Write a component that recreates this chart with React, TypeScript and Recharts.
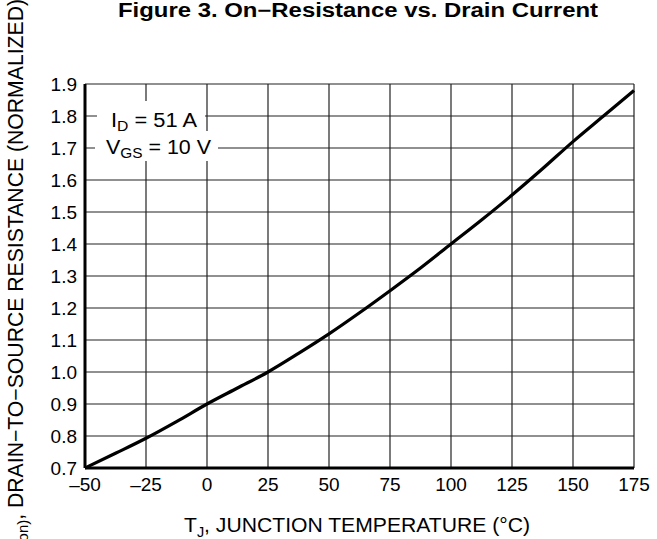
import { LineChart, Line, XAxis, YAxis, CartesianGrid } from "recharts";

const temps = [-50, -37.5, -25, -12.5, 0, 12.5, 25, 37.5, 50, 62.5, 75, 87.5, 100, 112.5, 125, 137.5, 150, 162.5, 175];
const rdsNorm = [0.7, 0.746, 0.793, 0.845, 0.9, 0.95, 1.0, 1.058, 1.119, 1.185, 1.254, 1.325, 1.4, 1.475, 1.553, 1.635, 1.72, 1.8, 1.88];
const xTicks = [-50, -25, 0, 25, 50, 75, 100, 125, 150, 175];
const yTicks = [0.7, 0.8, 0.9, 1.0, 1.1, 1.2, 1.3, 1.4, 1.5, 1.6, 1.7, 1.8, 1.9];

const data = temps.map((t, i) => ({ t, r: rdsNorm[i] }));

const FONT = '"Liberation Sans", Arial, Helvetica, sans-serif';

const fmtX = (v: number) => (v < 0 ? "\u2013" + Math.abs(v) : String(v));

function XLabel() {
  return (
    <text
      x={184}
      y={532}
      textLength={346}
      lengthAdjust="spacingAndGlyphs"
      fontSize={20.5}
      fontFamily={FONT}
      fill="#000"
    >
      T
      <tspan dy={5} fontSize={14}>J</tspan>
      <tspan dy={-5}>, JUNCTION TEMPERATURE (°C)</tspan>
    </text>
  );
}

function YLabel() {
  return (
    <text
      x={0}
      y={0}
      transform="translate(23, -1) rotate(-90)"
      textAnchor="end"
      fontSize={21.2}
      fontFamily={FONT}
      fill="#000"
    >
      R
      <tspan dy={5} fontSize={15}>DS(on)</tspan>
      <tspan dy={-5}>, DRAIN{"\u2212"}TO{"\u2212"}SOURCE RESISTANCE (NORMALIZED)</tspan>
    </text>
  );
}

export default function App() {
  return (
    <div style={{ position: "absolute", left: 0, top: 0, width: 657, height: 539, background: "#fff" }}>
      <LineChart width={657} height={539} data={data} margin={{ top: 84, right: 23, bottom: 0, left: 0 }}>
        <CartesianGrid stroke="#222" strokeWidth={1.2} />
        <XAxis
          dataKey="t"
          type="number"
          domain={[-50, 175]}
          ticks={xTicks}
          tickFormatter={fmtX}
          height={71}
          tickLine={false}
          tickMargin={4}
          axisLine={{ stroke: "#000", strokeWidth: 3 }}
          tick={{ fill: "#000", fontSize: 19, fontFamily: FONT }}
          label={{ content: () => <XLabel /> }}
        />
        <YAxis
          type="number"
          domain={[0.7, 1.9]}
          ticks={yTicks}
          tickFormatter={(v: number) => v.toFixed(1)}
          width={85}
          tickLine={false}
          axisLine={{ stroke: "#000", strokeWidth: 3 }}
          tick={{ fill: "#000", fontSize: 19, fontFamily: FONT }}
          label={{ content: () => <YLabel /> }}
        />
        <Line
          dataKey="r"
          type="monotone"
          stroke="#000"
          strokeWidth={3.2}
          dot={false}
          isAnimationActive={false}
        />
      </LineChart>
      <svg width={657} height={539} style={{ position: "absolute", left: 0, top: 0, pointerEvents: "none" }}>
        <text
          x={118}
          y={16.5}
          textLength={480}
          lengthAdjust="spacingAndGlyphs"
          fontSize={19.5}
          fontWeight="bold"
          fontFamily={FONT}
          fill="#000"
        >
          Figure 3. On{"\u2212"}Resistance vs. Drain Current
        </text>
        <rect x={97} y={101} width={108} height={30} fill="#fff" />
        <rect x={95} y={131} width={123} height={30} fill="#fff" />
        <text x={111} y={127} textLength={86} lengthAdjust="spacingAndGlyphs" fontSize={19.5} fontFamily={FONT} fill="#000">
          I
          <tspan dy={4} fontSize={14}>D</tspan>
          <tspan dy={-4}> = 51 A</tspan>
        </text>
        <text x={106} y={154} textLength={105} lengthAdjust="spacingAndGlyphs" fontSize={19.5} fontFamily={FONT} fill="#000">
          V
          <tspan dy={4} fontSize={14}>GS</tspan>
          <tspan dy={-4}> = 10 V</tspan>
        </text>
      </svg>
    </div>
  );
}
